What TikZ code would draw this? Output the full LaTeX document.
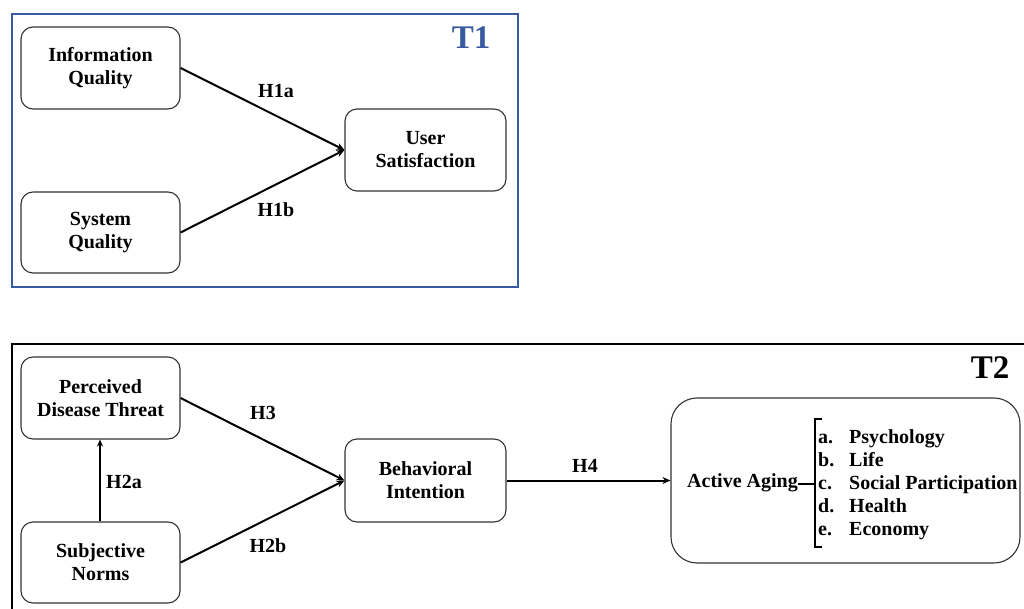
\documentclass[tikz,border=0pt]{standalone}
\usepackage{fontspec}
\setmainfont{Liberation Serif}
\usetikzlibrary{arrows.meta}
\definecolor{tblue}{RGB}{55,90,160}
\definecolor{boxgray}{RGB}{50,50,50}
\begin{document}
\begin{tikzpicture}[x=1pt,y=-1pt,
  box/.style={draw=boxgray,line width=1.1pt,rounded corners=12pt,inner sep=0pt,align=center,
    font=\fontsize{20}{23}\selectfont\bfseries},
  lbl/.style={inner sep=0pt,font=\fontsize{20}{23}\selectfont\bfseries},
  conn/.style={line width=2pt,-{Stealth[length=8pt,width=7pt]}},
  item/.style={inner sep=0pt,anchor=base west,font=\fontsize{20}{23}\selectfont\bfseries}]
\useasboundingbox (0,0) rectangle (1024,609);
% T1 frame
\draw[tblue,line width=2pt] (12,14) rectangle (518,287);
\node[lbl,text=tblue,font=\fontsize{33}{36}\selectfont\bfseries] (t1) at (471,38) {T1};
\node[box,minimum width=159pt,minimum height=82pt] (iq) at (100.5,68) {Information\\Quality};
\node[box,minimum width=159pt,minimum height=81pt] (sq) at (100.5,232.5) {System\\Quality};
\node[box,minimum width=161pt,minimum height=82pt] (us) at (425.5,150) {User\\Satisfaction};
\draw[conn] (iq.east) -- (us.west);
\draw[conn] (sq.east) -- (us.west);
\node[lbl] (h1a) at (276,91) {H1a};
\node[lbl] (h1b) at (276,210) {H1b};
% T2 frame
\coordinate (t2a) at (1030,344);
\coordinate (t2b) at (12,344);
\coordinate (t2c) at (12,615);
\draw[line width=2.5pt] (t2a) -- (t2b) -- (t2c);
\node[lbl,font=\fontsize{33}{36}\selectfont\bfseries] (t2) at (990,368) {T2};
\node[box,minimum width=159pt,minimum height=82pt] (pdt) at (100.5,398) {Perceived\\Disease Threat};
\node[box,minimum width=159pt,minimum height=81pt] (sn) at (100.5,562.5) {Subjective\\Norms};
\node[box,minimum width=161pt,minimum height=83pt] (bi) at (425.5,480.5) {Behavioral\\Intention};
\node[box,rounded corners=26pt,minimum width=349pt,minimum height=165pt] (aa) at (845.5,480.5) {};
\draw[conn] (pdt.east) -- (bi.west);
\draw[conn] (sn.east) -- (bi.west);
\draw[line width=2pt,-{Stealth[length=7pt,width=6pt]}] (sn.north -| 100,0) -- (pdt.south -| 100,0);
\draw[conn,line width=2pt] (bi.east) -- (aa.west);
\node[lbl] (h3) at (263,413) {H3};
\node[lbl] (h2b) at (268,546) {H2b};
\node[lbl] (h2a) at (124,482) {H2a};
\node[lbl] (h4) at (585,466) {H4};
% Active aging contents
\node[item] (aal) at (687,487) {Active Aging};
\coordinate (bt) at (815,419);
\coordinate (bb) at (815,547);
\coordinate (bm) at (815,484);
\draw[line width=2pt] ([xshift=7pt]bt) -- (bt) -- (bb) -- ([xshift=7pt]bb);
\draw[line width=1.5pt] (aal.east |- bm) -- (bm);
\node[item] (la) at (818,443) {a.};
\node[item] (lb) at (818,466) {b.};
\node[item] (lc) at (818,489) {c.};
\node[item] (ld) at (818,512) {d.};
\node[item] (le) at (818,535) {e.};
\node[item] (ia) at (849,443) {Psychology};
\node[item] (ib) at (849,466) {Life};
\node[item] (ic) at (849,489) {Social Participation};
\node[item] (id) at (849,512) {Health};
\node[item] (ie) at (849,535) {Economy};
\end{tikzpicture}
\end{document}
